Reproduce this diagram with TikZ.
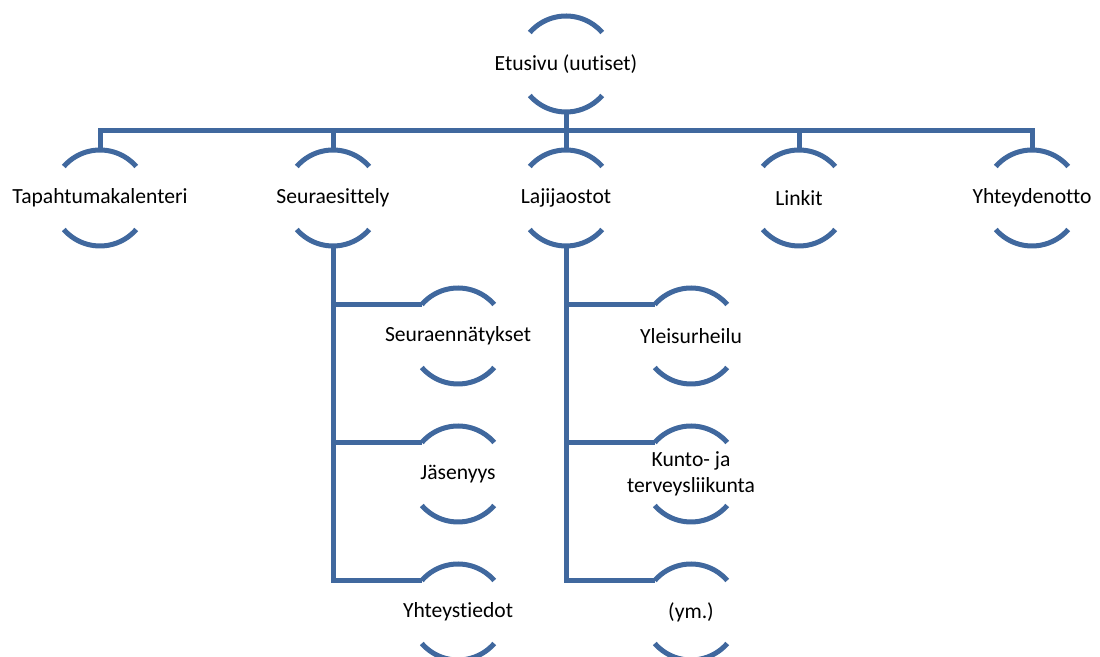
\documentclass[tikz,border=0pt]{standalone}
\usepackage{fontspec}
\setmainfont{Carlito}[Ligatures=NoCommon]
\usetikzlibrary{calc}
\definecolor{smartblue}{RGB}{64,104,158}

\begin{document}
\begin{tikzpicture}[x=0.5pt,y=0.5pt]
                            \tikzset{bubble/.style={circle,minimum size=48pt,inner sep=0pt,outer sep=0pt,
                            label={[font=\fontsize{10.8}{12.8}\selectfont,align=center]center:#1}}}
                            \tikzset{bow/.style={draw=smartblue,line width=2.5pt}}
                            \tikzset{link/.style={draw=smartblue,line width=2.5pt,line join=miter}}
                            \useasboundingbox (0,0) rectangle (1100,-657);

                            \node [bubble={Etusivu (uutiset)}] (top) at (566,-64) {};
                            \node [bubble={Tapahtumakalenteri}] (cal) at (100,-198) {};
                            \node [bubble={Seuraesittely}] (seu) at (333,-198) {};
                            \node [bubble={Lajijaostot}] (laji) at (566,-198) {};
                            \node [bubble={Linkit}] (link) at (799,-198) {};
                            \node [bubble={Yhteydenotto}] (yht) at (1032,-198) {};
                            \node [bubble={Seuraennätykset}] (rec) at (458,-336) {};
                            \node [bubble={Jäsenyys}] (jas) at (458,-474) {};
                            \node [bubble={Yhteystiedot}] (yt) at (458,-612) {};
                            \node [bubble={Yleisurheilu}] (yle) at (691,-336) {};
                            \node [bubble={Kunto- ja\\terveysliikunta}] (kun) at (691,-474) {};
                            \node [bubble={(ym.)}] (ym) at (691,-612) {};
                            \coordinate (hub) at (566,-131);

                            \foreach \n in {top,cal,seu,laji,link,yht,rec,jas,yt,yle,kun,ym}{
                              \draw [bow] (\n.41) arc [start angle=41,end angle=139,radius=24pt];
                              \draw [bow] (\n.221) arc [start angle=221,end angle=319,radius=24pt];
                            }

                            \draw [link] (top.south) -- (hub);
                            \draw [link] (cal.north) |- (hub);
                            \draw [link] (yht.north) |- (hub);
                            \foreach \n in {seu,laji,link}
                              \draw [link] (\n.north) -- (\n.north |- hub);
                            \foreach \n in {rec,jas,yt}
                              \draw [link] (seu.south) |- (\n.139);
                            \foreach \n in {yle,kun,ym}
                              \draw [link] (laji.south) |- (\n.139);
                        \end{tikzpicture}
\end{document}
